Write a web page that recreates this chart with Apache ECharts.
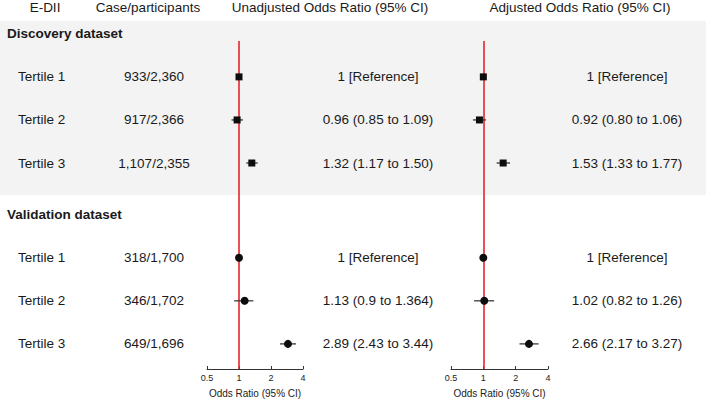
<!DOCTYPE html>
<html><head><meta charset="utf-8">
<script src="https://cdn.jsdelivr.net/npm/echarts@6/dist/echarts.min.js"></script>
<style>html,body{margin:0;padding:0;background:#fff}#c{width:709px;height:403px}</style>
</head><body><div id="c"></div>
<script>
const headers = ["E-DII", "Case/participants", "Unadjusted Odds Ratio (95% CI)", "Adjusted Odds Ratio (95% CI)"];
const groups = ["Discovery dataset", "Validation dataset"];
const tertiles = ["Tertile 1", "Tertile 2", "Tertile 3"];
const cases = [["933/2,360", "917/2,366", "1,107/2,355"], ["318/1,700", "346/1,702", "649/1,696"]];
const unadjOR = [[1, 0.96, 1.32], [1, 1.13, 2.89]];
const unadjLo = [[1, 0.85, 1.17], [1, 0.9, 2.43]];
const unadjHi = [[1, 1.09, 1.50], [1, 1.364, 3.44]];
const unadjText = [["1 [Reference]", "0.96 (0.85 to 1.09)", "1.32 (1.17 to 1.50)"], ["1 [Reference]", "1.13 (0.9 to 1.364)", "2.89 (2.43 to 3.44)"]];
const adjOR = [[1, 0.92, 1.53], [1, 1.02, 2.66]];
const adjLo = [[1, 0.80, 1.33], [1, 0.82, 2.17]];
const adjHi = [[1, 1.06, 1.77], [1, 1.26, 3.27]];
const adjText = [["1 [Reference]", "0.92 (0.80 to 1.06)", "1.53 (1.33 to 1.77)"], ["1 [Reference]", "1.02 (0.82 to 1.26)", "2.66 (2.17 to 3.27)"]];
const xTicks = [0.5, 1, 2, 4];
const axisTitle = "Odds Ratio (95% CI)";

// layout helpers
const GROUP_OFFSET = 4.2;
const rowV = (g, i) => g * GROUP_OFFSET + 1 + i;
const headV = g => g * GROUP_OFFSET;
const FONT = "'Liberation Sans', Arial, Helvetica, sans-serif";
const TXT = '#1a1a1a';

function buildSeries(gi, OR, LO, HI) {
  const pts = [], bars = [];
  groups.forEach((_, g) => {
    tertiles.forEach((_, i) => {
      pts.push({value: [OR[g][i], rowV(g, i)], symbol: g === 0 ? 'rect' : 'circle', symbolSize: g === 0 ? 7 : 8});
      bars.push([OR[g][i], rowV(g, i), LO[g][i], HI[g][i]]);
    });
  });
  return [
    {type: 'custom', xAxisIndex: gi, yAxisIndex: gi, z: 3, data: bars, encode: {x: 0, y: 1},
     renderItem: (params, api) => {
       const v = api.value(1);
       const p1 = api.coord([api.value(2), v]);
       const p2 = api.coord([api.value(3), v]);
       return {type: 'line', shape: {x1: p1[0], y1: p1[1], x2: p2[0], y2: p2[1]}, style: {stroke: '#3a3a3a', lineWidth: 1.3}};
     },
     markLine: {silent: true, symbol: 'none', label: {show: false}, lineStyle: {color: '#e3262b', width: 1.6, type: 'solid'}, data: [{xAxis: 1}], z: 2}
    },
    {type: 'scatter', xAxisIndex: gi, yAxisIndex: gi, z: 4, data: pts, itemStyle: {color: '#0d0d0d', opacity: 1}}
  ];
}

const xAxisBase = gi => ({
  type: 'log', logBase: 2, min: xTicks[0], max: xTicks[xTicks.length - 1], gridIndex: gi,
  splitLine: {show: false},
  axisLine: {show: true, lineStyle: {color: '#333', width: 1}},
  axisTick: {show: true, inside: true, length: 3, lineStyle: {color: '#333'}},
  axisLabel: {fontSize: 9, color: '#222', margin: 4, fontFamily: FONT, formatter: v => String(+v.toFixed(2))},
  name: axisTitle, nameLocation: 'middle', nameGap: 19,
  nameTextStyle: {fontSize: 10, color: '#222', fontFamily: FONT}
});
const yAxisBase = gi => ({type: 'value', gridIndex: gi, min: 0.167, max: 7.783, inverse: true, show: false});

const chart = echarts.init(document.getElementById('c'), null, {renderer: 'svg'});
chart.setOption({
  animation: false,
  backgroundColor: '#fff',
  grid: [
    {left: 207, top: 41, width: 96, height: 329},
    {left: 451, top: 41, width: 97, height: 329}
  ],
  xAxis: [xAxisBase(0), xAxisBase(1)],
  yAxis: [yAxisBase(0), yAxisBase(1)],
  series: [...buildSeries(0, unadjOR, unadjLo, unadjHi), ...buildSeries(1, adjOR, adjLo, adjHi)]
});

const py = v => chart.convertToPixel({yAxisIndex: 0}, v);
const graphics = [];
const text = (x, y, s, align, bold, size) => graphics.push({
  type: 'text', x: x, y: y, z: 5,
  style: {text: s, textAlign: align, textVerticalAlign: 'middle', fill: TXT,
          font: (bold ? 'bold ' : '') + (size || 13.5) + 'px ' + FONT}
});
// grey band behind discovery dataset
graphics.push({type: 'rect', z: -1, shape: {x: 0, y: py(headV(0) - 0.3), width: 706, height: py(3.74) - py(headV(0) - 0.3)}, style: {fill: '#f3f3f3'}});
// column headers
const headX = [45, 148, 330, 580];
headers.forEach((h, k) => text(headX[k], 7, h, 'center', false, 13.5));
groups.forEach((gname, g) => {
  text(7, py(headV(g)), gname, 'left', true, 13.5);
  tertiles.forEach((t, i) => {
    const y = py(rowV(g, i));
    text(18, y, t, 'left', false);
    text(154, y, cases[g][i], 'center', false);
    text(378, y, unadjText[g][i], 'center', false);
    text(627, y, adjText[g][i], 'center', false);
  });
});
chart.setOption({graphic: graphics});
</script>
</body></html>
